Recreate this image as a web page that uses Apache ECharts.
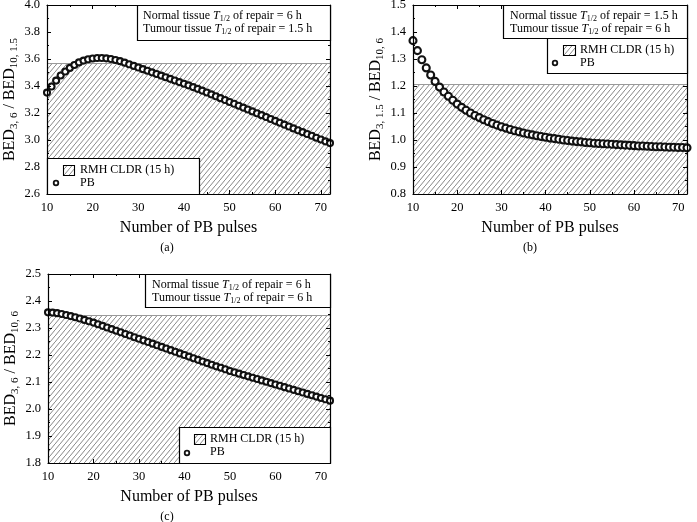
<!DOCTYPE html>
<html><head><meta charset="utf-8">
<script src="https://cdn.jsdelivr.net/npm/echarts@6/dist/echarts.min.js"></script>
<style>html,body{margin:0;padding:0;background:#fff}#c{width:697px;height:522px}</style>
</head><body><div id="c"></div>
<script>
// ---- data ----
const pulses = [10,11,12,13,14,15,16,17,18,19,20,21,22,23,24,25,26,27,28,29,30,31,32,33,34,35,36,37,38,39,40,41,42,43,44,45,46,47,48,49,50,51,52,53,54,55,56,57,58,59,60,61,62,63,64,65,66,67,68,69,70,71,72];
// (a) Normal 6 h / Tumour 1.5 h : BED3,6 / BED10,1.5
const ratioA = [3.351,3.396,3.440,3.478,3.507,3.534,3.556,3.575,3.588,3.598,3.604,3.607,3.607,3.605,3.600,3.593,3.584,3.573,3.561,3.549,3.537,3.525,3.513,3.501,3.489,3.477,3.465,3.453,3.441,3.429,3.417,3.405,3.392,3.379,3.366,3.352,3.338,3.324,3.310,3.296,3.282,3.268,3.254,3.240,3.226,3.212,3.198,3.184,3.170,3.156,3.142,3.128,3.114,3.100,3.086,3.072,3.058,3.044,3.031,3.017,3.004,2.990,2.977];
// (b) Normal 1.5 h / Tumour 6 h : BED3,1.5 / BED10,6
const ratioB = [1.368,1.331,1.297,1.267,1.241,1.217,1.196,1.178,1.162,1.147,1.133,1.121,1.110,1.100,1.091,1.083,1.075,1.068,1.061,1.055,1.049,1.044,1.039,1.034,1.030,1.026,1.022,1.019,1.016,1.013,1.010,1.007,1.005,1.003,1.000,0.998,0.996,0.994,0.993,0.991,0.990,0.988,0.987,0.986,0.985,0.984,0.983,0.982,0.981,0.980,0.979,0.978,0.978,0.977,0.976,0.975,0.975,0.974,0.973,0.973,0.972,0.972,0.971];
// (c) Normal 6 h / Tumour 6 h : BED3,6 / BED10,6
const ratioC = [2.358,2.357,2.355,2.352,2.348,2.344,2.340,2.335,2.330,2.325,2.320,2.314,2.308,2.302,2.296,2.290,2.284,2.278,2.272,2.266,2.260,2.254,2.248,2.242,2.236,2.230,2.224,2.218,2.212,2.206,2.200,2.194,2.188,2.182,2.176,2.170,2.164,2.158,2.153,2.147,2.141,2.136,2.131,2.126,2.121,2.116,2.111,2.106,2.101,2.096,2.091,2.086,2.081,2.076,2.071,2.066,2.061,2.056,2.051,2.046,2.041,2.036,2.031];
// RMH CLDR (15 h) reference level (top of hatched band)
const cldrLevel = [3.565, 1.205, 2.348];
const yMin = [2.6, 0.8, 1.8];
const yMax = [4.0, 1.5, 2.5];
const yStep = [0.2, 0.1, 0.1];
const xMin = 10, xMax = 72, xStep = 10;
const normalT = ['6', '1.5', '6'];
const tumourT = ['1.5', '6', '6'];
const yNames = [['3, 6','10, 1.5'],['3, 1.5','10, 6'],['3, 6','10, 6']];
const captions = ['(a)','(b)','(c)'];
const xName = 'Number of PB pulses';
const legendNames = ['RMH CLDR (15 h)', 'PB'];

// ---- styling / layout ----
const FF = '"Liberation Serif", "DejaVu Serif", serif';
function makeHatch(){
  const c = document.createElement('canvas');
  c.width = 5; c.height = 6;
  const g = c.getContext('2d');
  g.strokeStyle = '#7a7a7a'; g.lineWidth = 0.9;
  g.beginPath(); g.moveTo(-1, 6 + 6/5); g.lineTo(6, -6/5); g.stroke();
  return c;
}
const hatchFill = {image: makeHatch(), repeat: 'repeat'};

const grids = [
  {left: 47, top: 5, width: 283, height: 189, outerBoundsMode: 'none', containLabel: false},
  {left: 413, top: 5, width: 274, height: 189, outerBoundsMode: 'none', containLabel: false},
  {left: 48, top: 274, width: 282, height: 189, outerBoundsMode: 'none', containLabel: false}
];
const symSize = [6, 7, 6];
const series = [ratioA, ratioB, ratioC];

const xAxes = [], yAxes = [], seriesOpt = [];
grids.forEach((g, i) => {
  const common = {gridIndex: i, type: 'value', min: xMin, max: xMax, interval: xStep, z: 10,
    axisLine: {show: true, onZero: false, lineStyle: {color: '#000', width: 1.2}},
    axisTick: {show: true, inside: true, length: 4, lineStyle: {color: '#000'}},
    minorTick: {show: true, splitNumber: 2, length: 2, lineStyle: {color: '#000'}},
    splitLine: {show: false}};
  xAxes.push(Object.assign({}, common, {position: 'bottom',
    axisLabel: {show: true, color: '#000', fontFamily: FF, fontSize: 12.5, margin: 7, showMaxLabel: false},
    name: xName, nameLocation: 'middle', nameGap: 26,
    nameTextStyle: {color: '#000', fontFamily: FF, fontSize: 16}}));
  xAxes.push(Object.assign({}, common, {position: 'top', axisLabel: {show: false}}));
  const yc = {gridIndex: i, type: 'value', min: yMin[i], max: yMax[i], interval: yStep[i], z: 10,
    axisLine: {show: true, onZero: false, lineStyle: {color: '#000', width: 1.2}},
    axisTick: {show: true, inside: true, length: 4, lineStyle: {color: '#000'}},
    minorTick: {show: true, splitNumber: 2, length: 2, lineStyle: {color: '#000'}},
    splitLine: {show: false}};
  yAxes.push(Object.assign({}, yc, {position: 'left',
    axisLabel: {show: true, color: '#000', fontFamily: FF, fontSize: 12.5, margin: 7,
      formatter: v => v.toFixed(1)},
    name: '{m|BED}{s|' + yNames[i][0] + '}{m| / BED}{s|' + yNames[i][1] + '}',
    nameLocation: 'middle', nameRotate: 90, nameGap: 27,
    nameTextStyle: {color: '#000', fontFamily: FF, fontSize: 16,
      rich: {
        m: {fontFamily: FF, fontSize: 16, lineHeight: 20, color: '#000'},
        s: {fontFamily: FF, fontSize: 11, lineHeight: 10, verticalAlign: 'bottom', color: '#000'}
      }}}));
  yAxes.push(Object.assign({}, yc, {position: 'right', axisLabel: {show: false}}));
  seriesOpt.push({
    type: 'scatter', name: 'PB', xAxisIndex: 2*i, yAxisIndex: 2*i,
    data: pulses.map((p, k) => [p, series[i][k]]),
    symbol: 'circle', symbolSize: symSize[i], z: 5,
    itemStyle: {color: '#fff', borderColor: '#111', borderWidth: 2.1, opacity: 1},
    emphasis: {disabled: true},
    markArea: {silent: true, z: 1, itemStyle: {color: hatchFill, borderWidth: 0},
      data: [[{xAxis: xMin, yAxis: yMin[i]}, {xAxis: xMax, yAxis: cldrLevel[i]}]]},
    markLine: {silent: true, symbol: 'none', label: {show: false},
      lineStyle: {color: '#999', width: 1, type: 'solid'},
      data: [[{coord: [xMin, cldrLevel[i]]}, {coord: [xMax, cldrLevel[i]]}]]}
  });
});

// info boxes and legends (layout positions)
const info = [
  {x: 137, y: 5, w: 193, h: 35, tx: 143, t1: 16, t2: 29},
  {x: 503, y: 5, w: 184, h: 33, tx: 510, t1: 15.5, t2: 28.5},
  {x: 145, y: 274, w: 185, h: 33, tx: 152, t1: 284.5, t2: 298}
];
const leg = [
  {x: 47, y: 158, w: 152, h: 36, sq: [63, 165, 11, 10], cx: 56, cy: 183, tx: 80, ty1: 170, ty2: 183},
  {x: 547, y: 38, w: 140, h: 35, sq: [563, 45, 12, 10], cx: 555, cy: 63, tx: 580, ty1: 50, ty2: 63},
  {x: 179, y: 427, w: 151, h: 36, sq: [194, 434, 11, 10], cx: 187, cy: 453, tx: 210, ty1: 439, ty2: 452}
];
const capPos = [[167, 248], [530, 248], [167, 517]];
const richInfo = {
  it: {fontFamily: FF, fontSize: 12, fontStyle: 'italic', lineHeight: 14, fill: '#000'},
  s: {fontFamily: FF, fontSize: 8, lineHeight: 8, verticalAlign: 'bottom', fill: '#000'}
};
const graphics = [];
info.forEach((b, i) => {
  graphics.push({type: 'rect', z: 100, shape: {x: b.x + 0.5, y: b.y + 0.5, width: b.w, height: b.h},
    style: {fill: '#fff', stroke: '#000', lineWidth: 1.2}});
  graphics.push({type: 'text', z: 101, style: {x: b.tx, y: b.t1, verticalAlign: 'middle',
    text: 'Normal tissue {it|T}{s|1/2} of repair = ' + normalT[i] + ' h',
    fontFamily: FF, fontSize: 12, lineHeight: 14, fill: '#000', rich: richInfo}});
  graphics.push({type: 'text', z: 101, style: {x: b.tx, y: b.t2, verticalAlign: 'middle',
    text: 'Tumour tissue {it|T}{s|1/2} of repair = ' + tumourT[i] + ' h',
    fontFamily: FF, fontSize: 12, lineHeight: 14, fill: '#000', rich: richInfo}});
});
leg.forEach((l) => {
  graphics.push({type: 'rect', z: 100, shape: {x: l.x + 0.5, y: l.y + 0.5, width: l.w, height: l.h},
    style: {fill: '#fff', stroke: '#000', lineWidth: 1.2}});
  graphics.push({type: 'rect', z: 101, shape: {x: l.sq[0] + 0.5, y: l.sq[1] + 0.5, width: l.sq[2], height: l.sq[3]},
    style: {fill: hatchFill, stroke: '#000', lineWidth: 1.1}});
  graphics.push({type: 'circle', z: 101, shape: {cx: l.cx, cy: l.cy, r: 2.3},
    style: {fill: '#fff', stroke: '#111', lineWidth: 1.8}});
  graphics.push({type: 'text', z: 101, style: {x: l.tx, y: l.ty1, verticalAlign: 'middle', text: legendNames[0],
    fontFamily: FF, fontSize: 12, fill: '#000'}});
  graphics.push({type: 'text', z: 101, style: {x: l.tx, y: l.ty2, verticalAlign: 'middle', text: legendNames[1],
    fontFamily: FF, fontSize: 12, fill: '#000'}});
});
capPos.forEach((p, i) => {
  graphics.push({type: 'text', z: 101, style: {x: p[0], y: p[1], align: 'center', verticalAlign: 'middle',
    text: captions[i], fontFamily: FF, fontSize: 12, fill: '#000'}});
});

const chart = echarts.init(document.getElementById('c'), null, {renderer: 'canvas'});
chart.setOption({
  animation: false,
  backgroundColor: '#fff',
  grid: grids,
  xAxis: xAxes,
  yAxis: yAxes,
  series: seriesOpt,
  graphic: graphics
});
</script>
</body></html>
